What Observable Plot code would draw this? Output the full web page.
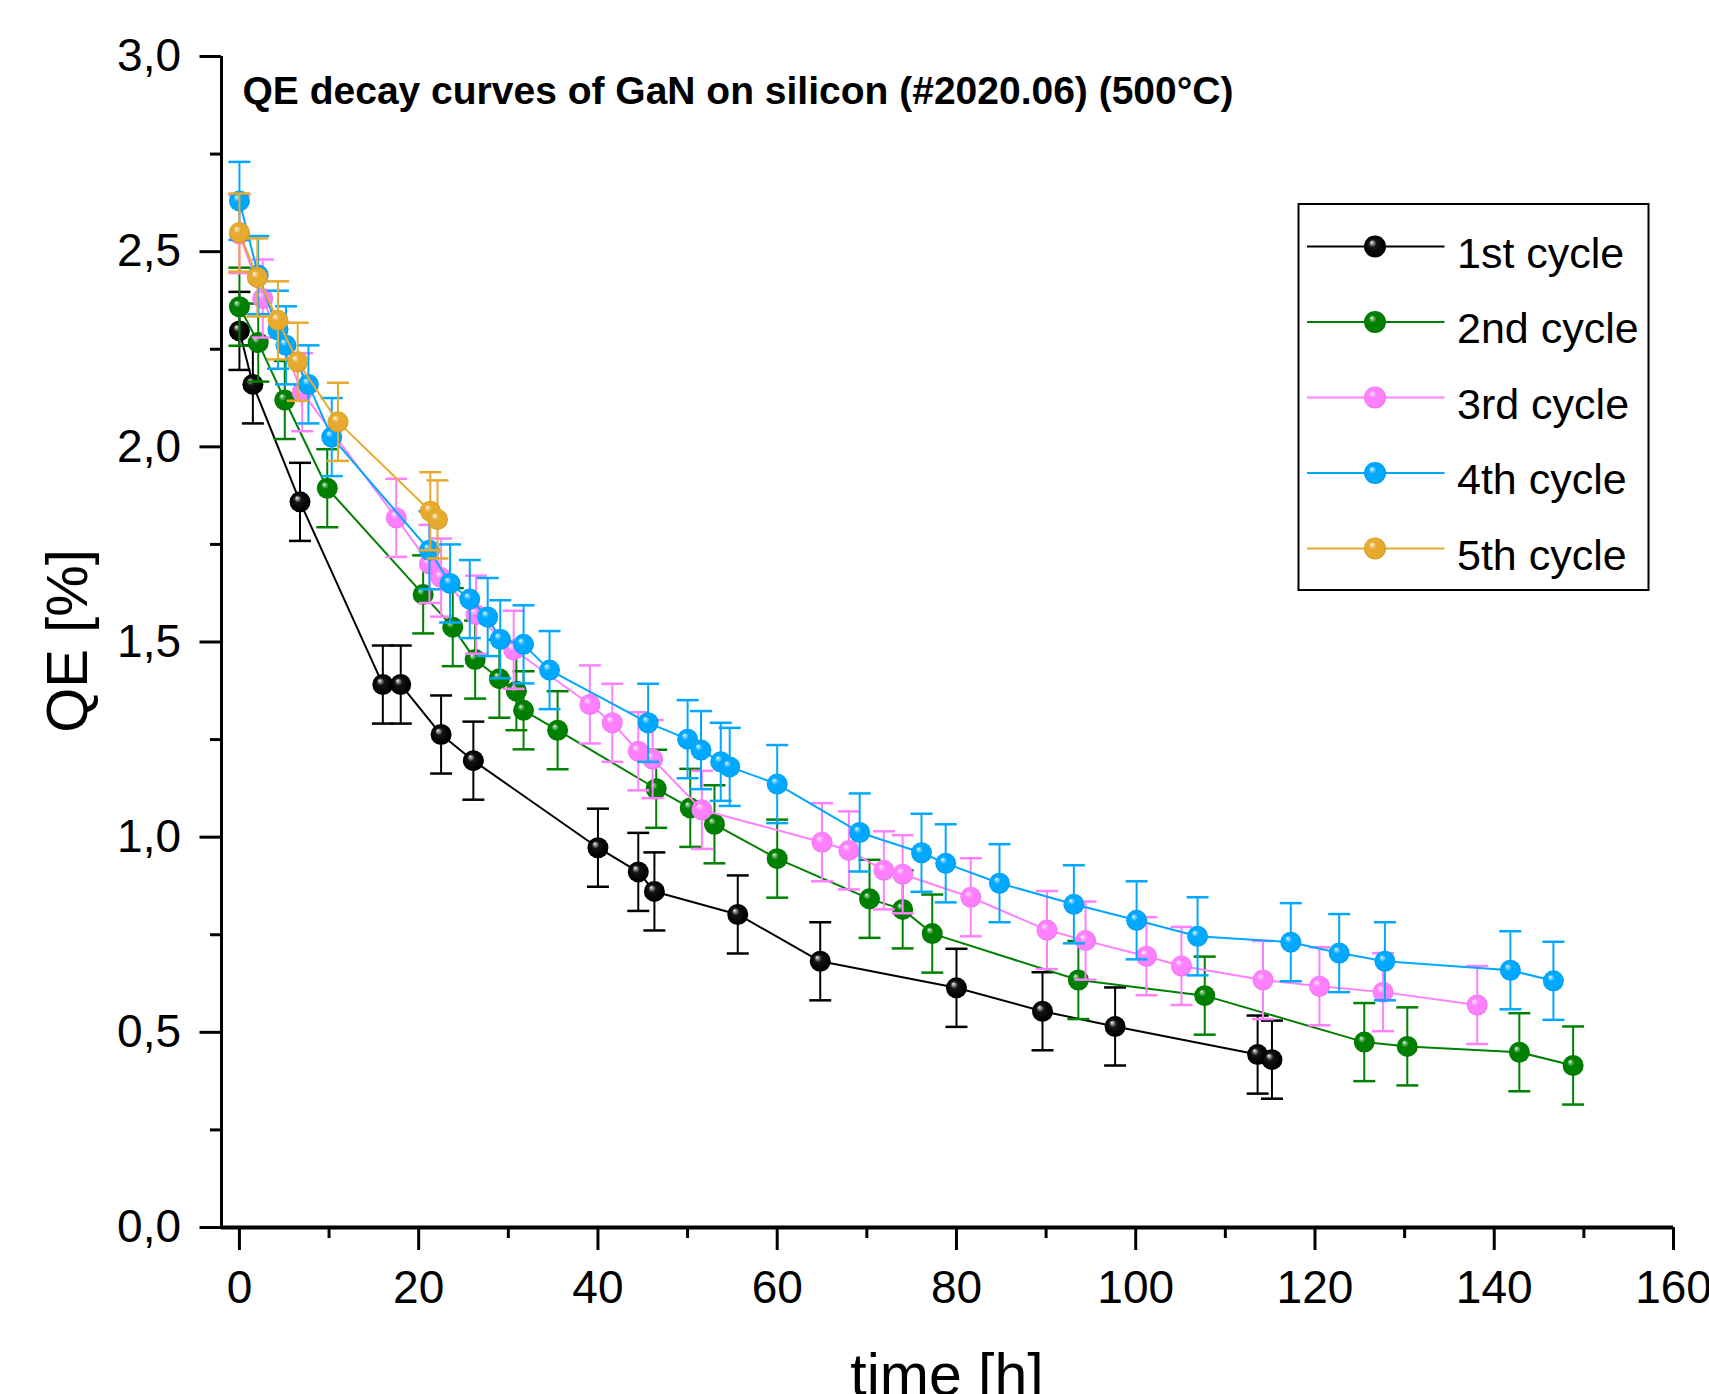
<!DOCTYPE html>
<html>
<head>
<meta charset="utf-8">
<script src="https://cdn.jsdelivr.net/npm/d3@7"></script>
<script src="https://cdn.jsdelivr.net/npm/@observablehq/plot@0.6"></script>
<style>
  html, body { margin: 0; padding: 0; background: #fff; }
  #chart svg { display: block; }
</style>
</head>
<body>
<div id="chart"></div>
<script>
// ---- data ----
const cycles = ["1st cycle", "2nd cycle", "3rd cycle", "4th cycle", "5th cycle"];
const colors = ["#000000", "#008000", "#ff80ff", "#00a8ff", "#e6aa2e"];

const t1  = [0, 1.5, 6.76, 16.0, 18.0, 22.5, 26.1, 40.0, 44.5, 46.3, 55.6, 64.8, 80.0, 89.6, 97.7, 113.6, 115.2];
const qe1 = [2.297, 2.16, 1.859, 1.391, 1.391, 1.263, 1.196, 0.973, 0.911, 0.861, 0.802, 0.682, 0.614, 0.554, 0.515, 0.443, 0.43];

const t2  = [0, 2.1, 5.06, 9.8, 20.5, 23.8, 26.3, 29.0, 30.9, 31.7, 35.5, 46.5, 50.3, 53.0, 60.0, 70.3, 74.0, 77.3, 93.6, 107.7, 125.5, 130.3, 142.8, 148.8];
const qe2 = [2.359, 2.267, 2.12, 1.894, 1.622, 1.538, 1.455, 1.406, 1.374, 1.325, 1.274, 1.124, 1.075, 1.033, 0.945, 0.842, 0.815, 0.753, 0.634, 0.594, 0.475, 0.464, 0.449, 0.415];

const t3  = [0, 2.6, 7.0, 17.5, 21.2, 22.5, 26.4, 30.6, 39.1, 41.6, 44.5, 46.1, 51.6, 65.0, 68.0, 71.9, 74.0, 81.6, 90.1, 94.4, 101.2, 105.1, 114.2, 120.5, 127.6, 138.1];
const qe3 = [2.545, 2.38, 2.14, 1.818, 1.70, 1.665, 1.57, 1.48, 1.34, 1.293, 1.22, 1.20, 1.07, 0.987, 0.966, 0.915, 0.905, 0.846, 0.762, 0.735, 0.695, 0.67, 0.634, 0.618, 0.603, 0.57];

const t4  = [0, 2.1, 4.3, 5.2, 7.7, 10.3, 21.2, 23.5, 25.7, 27.7, 29.1, 31.7, 34.6, 45.6, 50.0, 51.5, 53.7, 54.7, 60.0, 69.2, 76.1, 78.8, 84.8, 93.1, 100.1, 106.9, 117.3, 122.7, 127.8, 141.8, 146.6];
const qe4 = [2.63, 2.44, 2.30, 2.26, 2.16, 2.025, 1.735, 1.65, 1.61, 1.564, 1.507, 1.494, 1.428, 1.293, 1.251, 1.223, 1.193, 1.18, 1.136, 1.012, 0.96, 0.933, 0.882, 0.828, 0.787, 0.746, 0.731, 0.703, 0.682, 0.659, 0.632];

const t5  = [0, 2.0, 4.3, 6.5, 11.0, 21.3, 22.1];
const qe5 = [2.549, 2.434, 2.324, 2.218, 2.064, 1.835, 1.814];

const qeError = 0.1; // constant error bar half-height

const xTicks = [0, 20, 40, 60, 80, 100, 120, 140, 160];
const xMinorTicks = [10, 30, 50, 70, 90, 110, 130, 150];
const yTicks = [0, 0.5, 1.0, 1.5, 2.0, 2.5, 3.0];
const yMinorTicks = [0.25, 0.75, 1.25, 1.75, 2.25, 2.75];

const title = "QE decay curves of GaN on silicon (#2020.06) (500°C)";
const xLabel = "time [h]";
const yLabel = "QE [%]";

// ---- build tables ----
const times = [t1, t2, t3, t4, t5];
const values = [qe1, qe2, qe3, qe4, qe5];
const series = cycles.map((name, i) =>
  times[i].map((t, j) => ({cycle: name, t, qe: values[i][j]}))
);

const FONT = "'Liberation Sans', Arial, Helvetica, sans-serif";

// gradient "ball" fills
function ballDefs() {
  const defs = d3.create("svg:defs");
  colors.forEach((c, i) => {
    const base = d3.rgb(c);
    const light = d3.interpolateRgb(c, "#ffffff")(0.6);
    const dark = i === 0 ? "#000000" : base.darker(0.25).formatHex();
    const g = defs.append("radialGradient")
      .attr("id", `ball-${i}`)
      .attr("cx", "0.5").attr("cy", "0.5").attr("r", "0.5")
      .attr("fx", "0.34").attr("fy", "0.3");
    g.append("stop").attr("offset", "0").attr("stop-color", "#ffffff");
    g.append("stop").attr("offset", "0.1").attr("stop-color", i === 0 ? "#b0b0b0" : light);
    g.append("stop").attr("offset", "0.35").attr("stop-color", i === 0 ? "#151515" : c);
    g.append("stop").attr("offset", "0.85").attr("stop-color", c);
    g.append("stop").attr("offset", "1").attr("stop-color", dark);
  });
  return defs.node();
}

// horizontal cap symbol for error bars
const capSymbol = {
  draw(context) {
    context.moveTo(-11, 0);
    context.lineTo(11, 0);
  }
};

// legend and axis titles (decoration, fixed layout)
function legend() {
  const g = d3.create("svg:g").attr("text-anchor", "start");
  g.append("rect")
    .attr("x", 1298.5).attr("y", 204).attr("width", 350).attr("height", 386)
    .attr("fill", "#fff").attr("stroke", "#000").attr("stroke-width", 2);
  cycles.forEach((name, i) => {
    const y = 246.5 + i * 75.5;
    g.append("line")
      .attr("x1", 1307).attr("x2", 1444.5).attr("y1", y).attr("y2", y)
      .attr("stroke", colors[i]).attr("stroke-width", 2);
    g.append("circle")
      .attr("cx", 1375).attr("cy", y).attr("r", 11)
      .attr("fill", `url(#ball-${i})`);
    g.append("text")
      .attr("x", 1457).attr("y", y + 21)
      .attr("text-anchor", "start")
      .attr("font-family", FONT).attr("font-size", 43).attr("fill", "#000")
      .text(name);
  });
  return g.node();
}

function axisTitles() {
  const g = d3.create("svg:g");
  g.append("text")
    .attr("transform", "translate(87,641) rotate(-90)")
    .attr("text-anchor", "middle")
    .attr("font-family", FONT).attr("font-size", 58).attr("fill", "#000")
    .text(yLabel);
  g.append("text")
    .attr("x", 947).attr("y", 1395)
    .attr("text-anchor", "middle")
    .attr("font-family", FONT).attr("font-size", 59).attr("fill", "#000")
    .text(xLabel);
  return g.node();
}

const marks = [ballDefs];

// data series: error bars, line, balls per series
series.forEach((data, i) => {
  const c = colors[i];
  marks.push(
    Plot.ruleX(data, {x: "t", y1: d => d.qe - qeError, y2: d => d.qe + qeError, stroke: c, strokeWidth: 2}),
    Plot.dot(data, {x: "t", y: d => d.qe + qeError, symbol: capSymbol, r: 6, stroke: c, fill: "none", strokeWidth: 2.5}),
    Plot.dot(data, {x: "t", y: d => d.qe - qeError, symbol: capSymbol, r: 6, stroke: c, fill: "none", strokeWidth: 2.5}),
    Plot.line(data, {x: "t", y: "qe", stroke: c, strokeWidth: 2}),
    Plot.dot(data, {x: "t", y: "qe", r: 10.5, fill: `url(#ball-${i})`, stroke: "none"})
  );
});

marks.push(
  // axes
  Plot.ruleX([-2], {y1: 0, y2: 3, stroke: "#000", strokeWidth: 3}),
  Plot.ruleY([0], {stroke: "#000", strokeWidth: 4}),
  Plot.axisY({ticks: yTicks, tickSize: 21.5, tickPadding: 19, strokeWidth: 3,
    tickFormat: d => d.toFixed(1).replace(".", ","), fontSize: 46, label: null}),
  Plot.axisY({ticks: yMinorTicks, tickSize: 11, strokeWidth: 3, tickFormat: () => "", label: null}),
  Plot.axisX({ticks: xTicks, tickSize: 23, tickPadding: 20, strokeWidth: 3,
    tickFormat: d => String(d), fontSize: 46, label: null}),
  Plot.axisX({ticks: xMinorTicks, tickSize: 11, strokeWidth: 3, tickFormat: () => "", label: null}),
  // title
  Plot.text([title], {frameAnchor: "top-left", textAnchor: "start", lineAnchor: "top",
    dx: 21, dy: 20, fontSize: 39, fontWeight: "bold", fill: "#000"}),
  axisTitles,
  legend
);

const chart = Plot.plot({
  width: 1709,
  height: 1394,
  marginLeft: 221,
  marginRight: 36,
  marginTop: 56,
  marginBottom: 167,
  style: {fontFamily: FONT, color: "#000", background: "#fff", overflow: "visible"},
  x: {domain: [-2, 160], axis: null},
  y: {domain: [0, 3], axis: null},
  marks
});

document.getElementById("chart").append(chart);
</script>
</body>
</html>
